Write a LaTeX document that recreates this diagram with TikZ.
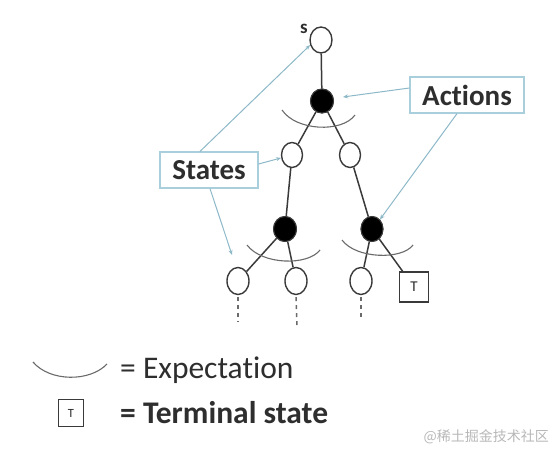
\documentclass[tikz,border=0pt]{standalone}
\usepackage{fontspec}
\setmainfont[Ligatures=NoCommon]{Carlito}
\newfontfamily\cjk{Noto Sans CJK SC}
\usetikzlibrary{shapes.geometric,arrows.meta}
\definecolor{treec}{HTML}{3A3A3A}
\definecolor{arcc}{HTML}{6A6A6A}
\definecolor{callc}{HTML}{8DB8C8}
\definecolor{boxc}{HTML}{A9CFDC}
\definecolor{txtc}{HTML}{2E2E2E}
\tikzset{
  statenode/.style={ellipse,draw=treec,line width=1.4pt,fill=white,minimum width=22pt,minimum height=26pt,inner sep=0pt},
  actnode/.style={ellipse,draw=treec,fill=black,line width=1pt,minimum width=23pt,minimum height=24pt,inner sep=0pt},
  termnode/.style={rectangle,draw=treec,line width=1.3pt,fill=white,minimum width=29pt,minimum height=30pt,inner sep=0pt,text=txtc,font=\fontsize{15}{15}\selectfont},
  edge/.style={draw=treec,line width=1.5pt},
  expect/.style={draw=arcc,line width=1.1pt},
  dotline/.style={draw=arcc,line width=1.5pt,dash pattern=on 4pt off 4pt},
  callout/.style={draw=callc,line width=1pt,-{Stealth[length=5pt,width=4pt]}},
  labelbox/.style={rectangle,draw=boxc,line width=1.2pt,fill=white,text=txtc,inner sep=0pt,font=\bfseries\fontsize{29}{29}\selectfont},
  legendtxt/.style={text=txtc,anchor=west,inner sep=0pt},
}
\begin{document}
\begin{tikzpicture}[x=1pt,y=-1pt]
\useasboundingbox (0,0) rectangle (560,457);
% tree nodes
\node[statenode] (s) at (321,40) {};
\node[text=txtc,font=\bfseries\fontsize{19}{19}\selectfont,inner sep=0pt] (slab) at (304,29) {s};
\node[actnode] (a1) at (322,101) {};
\node[statenode,minimum width=21pt,minimum height=25pt] (l2) at (292,155) {};
\node[statenode,minimum width=21pt,minimum height=25pt] (r2) at (350,155) {};
\node[actnode,minimum height=25pt] (al) at (285,229) {};
\node[actnode,minimum width=22pt,minimum height=25pt] (ar) at (372,229) {};
\node[statenode,minimum height=27pt] (b1) at (238,281) {};
\node[statenode,minimum height=27pt] (b2) at (296,281) {};
\node[statenode,minimum height=27pt] (b3) at (361,281) {};
\node[termnode] (t) at (414,287) {T};
% edges
\draw[edge] (s) -- (a1);
\draw[edge] (a1) -- (l2);
\draw[edge] (a1) -- (r2);
\draw[edge] (l2) -- (al);
\draw[edge] (r2) -- (ar);
\draw[edge] (al) -- (b1);
\draw[edge] (al) -- (b2);
\draw[edge] (ar) -- (b3);
\draw[edge] (ar) -- (t);
% redraw nodes on top
\node[actnode] at (a1) {};
\node[actnode,minimum height=25pt] at (al) {};
\node[actnode,minimum width=22pt,minimum height=25pt] at (ar) {};
% expectation arcs
\draw[expect] (282,110) .. controls (296,131) and (342,133) .. (355,115);
\draw[expect] (247,245) .. controls (262,265) and (308,266) .. (320,250);
\draw[expect] (342,240) .. controls (356,259) and (402,260) .. (413,245);
% dotted continuations
\coordinate (d1) at (238,322);
\coordinate (d2) at (297,325);
\coordinate (d3) at (361,318);
\draw[dotline] ([yshift=-2pt]b1.south) -- (d1);
\draw[dotline] ([yshift=-2pt]b2.south) -- (d2);
\draw[dotline] ([yshift=-2pt]b3.south) -- (d3);
% label boxes
\node[labelbox,minimum width=98pt,minimum height=36pt] (states) at (209,170) {States};
\node[labelbox,minimum width=114pt,minimum height=36pt] (actions) at (467,95) {Actions};
% callouts
\coordinate (c3) at (232,255);
\coordinate (c4) at (343,97);
\draw[callout] ([xshift=-9pt]states.north) -- (s.205);
\draw[callout] ([yshift=6pt]states.east) -- (l2.195);
\draw[callout] ([xshift=1pt]states.south) -- (c3);
\draw[callout] ([yshift=7pt]actions.west) -- (c4);
\draw[callout] ([xshift=-10pt]actions.south) -- (ar.50);
% legend
\draw[expect] (33,362) .. controls (50,382) and (90,382) .. (107,364);
\node[legendtxt,font=\fontsize{31.5}{32}\selectfont] (lexp) at (120,370) {= Expectation};
\node[termnode,minimum width=25pt,minimum height=27pt,line width=1.1pt,font=\fontsize{12.5}{12.5}\selectfont] (lt) at (71,413) {T};
\node[legendtxt,font=\bfseries\fontsize{31.5}{32}\selectfont] (lterm) at (120,413) {= Terminal state};
% watermark
\node[text=black!28,anchor=east,inner sep=0pt,font=\cjk\fontsize{14}{14}\selectfont] (wm) at (549,437) {@稀土掘金技术社区};
\end{tikzpicture}
\end{document}
